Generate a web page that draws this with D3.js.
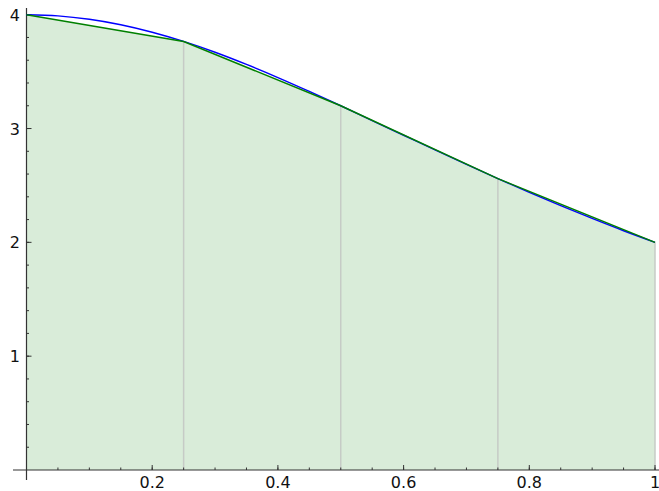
<!DOCTYPE html>
<html><head><meta charset="utf-8">
<script src="https://cdn.jsdelivr.net/npm/d3@7"></script>
<style>body{margin:0;background:#fff}svg{display:block}</style>
</head><body>
<script>
// Curve samples (blue)
const curveX = [0,0.05,0.1,0.15,0.2,0.25,0.3,0.35,0.4,0.45,0.5,0.55,0.6,0.65,0.7,0.75,0.8,0.85,0.9,0.95,1];
const curveY = [4,3.990,3.960,3.912,3.846,3.765,3.670,3.563,3.448,3.326,3.2,3.070,2.941,2.812,2.685,2.56,2.439,2.322,2.210,2.102,2];
// Trapezoid nodes (green)
const trapX = [0,0.25,0.5,0.75,1];
const trapY = [4,3.765,3.2,2.56,2];
const xTicks = [0.2,0.4,0.6,0.8,1];
const xTickLabels = ["0.2","0.4","0.6","0.8","1"];
const yTicks = [1,2,3,4];
const yTickLabels = ["1","2","3","4"];

const W=659,H=491;
const svg=d3.select("body").append("svg").attr("width",W).attr("height",H);
const x=d3.scaleLinear().domain([0,1]).range([26.5,655]);
const y=d3.scaleLinear().domain([0,4]).range([470,14.7]);

const trap=trapX.map((v,i)=>[v,trapY[i]]);
// fill
svg.append("path").datum(trap)
  .attr("d",d3.area().x(d=>x(d[0])).y0(y(0)).y1(d=>y(d[1])))
  .attr("fill","#d9ecd9").attr("stroke","none");
// vertical separators
svg.selectAll("line.sep").data(trap.slice(1)).enter().append("line")
  .attr("x1",d=>x(d[0])).attr("x2",d=>x(d[0]))
  .attr("y1",y(0)).attr("y2",d=>y(d[1]))
  .attr("stroke","#c6cbc6").attr("stroke-width",1.5);

// axes
const axisColor="#333";
svg.append("line").attr("x1",13).attr("x2",659).attr("y1",y(0)).attr("y2",y(0)).attr("stroke",axisColor).attr("stroke-width",1.2);
svg.append("line").attr("x1",x(0)).attr("x2",x(0)).attr("y1",8).attr("y2",480).attr("stroke",axisColor).attr("stroke-width",1.2);

// x ticks
const xMinor=d3.range(1,21).map(i=>i*0.05);
svg.selectAll("line.xm").data(xMinor).enter().append("line")
  .attr("x1",d=>x(d)).attr("x2",d=>x(d)).attr("y1",y(0)).attr("y2",y(0)-2.5)
  .attr("stroke",axisColor).attr("stroke-width",1);
svg.selectAll("line.xM").data(xTicks).enter().append("line")
  .attr("x1",d=>x(d)).attr("x2",d=>x(d)).attr("y1",y(0)).attr("y2",y(0)-5)
  .attr("stroke",axisColor).attr("stroke-width",1);
svg.selectAll("text.xl").data(xTicks).enter().append("text")
  .attr("x",d=>x(d)).attr("y",488).attr("text-anchor","middle")
  .attr("font-family","DejaVu Sans").attr("font-size",16).attr("fill","#111")
  .text((d,i)=>xTickLabels[i]);

// y ticks
const yMinor=d3.range(1,21).map(i=>i*0.2);
svg.selectAll("line.ym").data(yMinor).enter().append("line")
  .attr("x1",x(0)).attr("x2",x(0)+2.5).attr("y1",d=>y(d)).attr("y2",d=>y(d))
  .attr("stroke",axisColor).attr("stroke-width",1);
svg.selectAll("line.yM").data(yTicks).enter().append("line")
  .attr("x1",x(0)).attr("x2",x(0)+5).attr("y1",d=>y(d)).attr("y2",d=>y(d))
  .attr("stroke",axisColor).attr("stroke-width",1);
svg.selectAll("text.yl").data(yTicks).enter().append("text")
  .attr("x",20).attr("y",d=>y(d)+6).attr("text-anchor","end")
  .attr("font-family","DejaVu Sans").attr("font-size",16).attr("fill","#111")
  .text((d,i)=>yTickLabels[i]);

// blue curve
svg.append("path").datum(curveX.map((v,i)=>[v,curveY[i]]))
  .attr("d",d3.line().x(d=>x(d[0])).y(d=>y(d[1])).curve(d3.curveMonotoneX))
  .attr("fill","none").attr("stroke","#0000ff").attr("stroke-width",1.4);
// green trapezoid tops
svg.append("path").datum(trap)
  .attr("d",d3.line().x(d=>x(d[0])).y(d=>y(d[1])))
  .attr("fill","none").attr("stroke","#008000").attr("stroke-width",1.5);
</script>
</body></html>
